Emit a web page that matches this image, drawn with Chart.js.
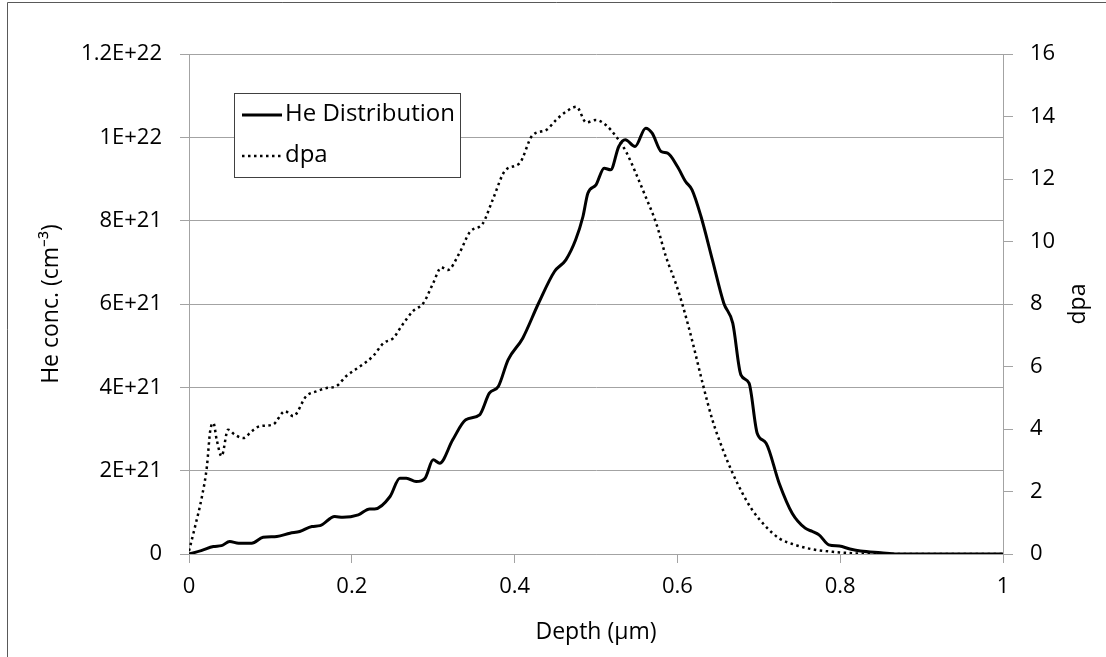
<!DOCTYPE html>
<html>
<head>
<meta charset="utf-8">
<script src="https://cdn.jsdelivr.net/npm/chart.js@4"></script>
<style>
  body { margin: 0; background: #fff; }
  canvas { display: block; }
</style>
</head>
<body>
<canvas id="depthChart" width="1106" height="657"></canvas>
<script>
// He distribution, depth in um, concentration in cm^-3
const heDepth = [0, 0.015, 0.030, 0.040, 0.050, 0.061, 0.077, 0.091, 0.108, 0.124, 0.136, 0.151, 0.161, 0.179, 0.189,
  0.208, 0.222, 0.228, 0.247, 0.259, 0.267, 0.279, 0.290, 0.300, 0.308, 0.324, 0.340, 0.357, 0.369, 0.380, 0.392,
  0.410, 0.429, 0.449, 0.463, 0.475, 0.484, 0.490, 0.500, 0.510, 0.518, 0.528, 0.536, 0.548, 0.561, 0.569, 0.580,
  0.588, 0.600, 0.610, 0.618, 0.629, 0.643, 0.657, 0.668, 0.678, 0.688, 0.698, 0.709, 0.725, 0.741, 0.757, 0.766,
  0.774, 0.786, 0.799, 0.812, 0.825, 0.850, 0.870, 1.0];
const heConc = [0, 0.08e21, 0.18e21, 0.2e21, 0.30e21, 0.26e21, 0.26e21, 0.40e21, 0.42e21, 0.50e21, 0.54e21, 0.66e21, 0.68e21, 0.90e21, 0.88e21,
  0.94e21, 1.08e21, 1.08e21, 1.38e21, 1.82e21, 1.82e21, 1.74e21, 1.82e21, 2.26e21, 2.18e21, 2.74e21, 3.22e21, 3.34e21, 3.86e21, 4.02e21, 4.66e21,
  5.18e21, 6.0e21, 6.78e21, 7.06e21, 7.54e21, 8.10e21, 8.66e21, 8.86e21, 9.26e21, 9.22e21, 9.78e21, 9.94e21, 9.78e21, 10.22e21, 10.10e21, 9.66e21,
  9.62e21, 9.30e21, 8.94e21, 8.74e21, 8.10e21, 7.06e21, 6.02e21, 5.54e21, 4.30e21, 4.10e21, 2.90e21, 2.66e21, 1.70e21, 0.98e21, 0.62e21, 0.54e21,
  0.46e21, 0.22e21, 0.19e21, 0.12e21, 0.07e21, 0.03e21, 0, 0];

// dpa (right axis)
const dpaDepth = [0, 0.007, 0.016, 0.022, 0.026, 0.030, 0.034, 0.040, 0.048, 0.056, 0.067, 0.077, 0.087, 0.103, 0.118,
  0.128, 0.144, 0.157, 0.169, 0.181, 0.193, 0.210, 0.226, 0.239, 0.251, 0.261, 0.275, 0.288, 0.300, 0.310, 0.318,
  0.332, 0.345, 0.361, 0.373, 0.389, 0.406, 0.422, 0.439, 0.451, 0.463, 0.476, 0.488, 0.500, 0.512, 0.525, 0.537,
  0.549, 0.561, 0.574, 0.586, 0.598, 0.607, 0.619, 0.631, 0.643, 0.656, 0.668, 0.680, 0.692, 0.709, 0.725, 0.745,
  0.766, 0.791, 0.820, 0.850, 1.0];
const dpaValues = [0.1, 0.83, 1.85, 2.8, 3.93, 4.19, 3.66, 3.13, 3.98, 3.82, 3.71, 3.93, 4.09, 4.14, 4.57,
  4.41, 5.05, 5.21, 5.31, 5.37, 5.69, 6.0, 6.33, 6.75, 6.91, 7.29, 7.77, 8.03, 8.67, 9.17, 9.09,
  9.62, 10.3, 10.58, 11.33, 12.29, 12.50, 13.4, 13.57, 13.89, 14.15, 14.31, 13.81, 13.89, 13.73, 13.35, 12.87,
  12.18, 11.43, 10.58, 9.51, 8.66, 7.91, 6.74, 5.46, 4.29, 3.33, 2.58, 1.94, 1.41, 0.87, 0.50, 0.29,
  0.15, 0.07, 0.02, 0, 0];

const heTickLabels = ['0', '2E+21', '4E+21', '6E+21', '8E+21', '1E+22', '1.2E+22'];
const depthTickLabels = ['0', '0.2', '0.4', '0.6', '0.8', '1'];
const seriesNames = ['He Distribution', 'dpa'];

const gridGray = '#a3a3a3';
Chart.defaults.font.family = "'Open Sans', sans-serif";
Chart.defaults.font.size = 22;
Chart.defaults.color = '#000';

// white background + the frame lines on the left and top edges
const framePlugin = {
  id: 'frame',
  beforeDraw(chart) {
    const c = chart.ctx;
    c.save();
    c.fillStyle = '#fff';
    c.fillRect(0, 0, chart.width, chart.height);
    c.strokeStyle = '#595959';
    c.lineWidth = 1;
    c.beginPath();
    c.moveTo(7.5, chart.height);
    c.lineTo(7.5, 2.5);
    c.lineTo(chart.width, 2.5);
    c.stroke();
    c.restore();
  }
};

// legend box inside the plot + right axis title reading upwards (excel style)
const boxLegend = {
  id: 'boxLegend',
  afterDraw(chart) {
    const c = chart.ctx;
    c.save();
    c.fillStyle = '#fff';
    c.fillRect(234.5, 93.5, 226, 84);
    c.strokeStyle = '#404040';
    c.lineWidth = 1;
    c.strokeRect(234.5, 93.5, 226, 84);

    c.strokeStyle = '#000';
    c.lineWidth = 3;
    c.beginPath();
    c.moveTo(242, 115);
    c.lineTo(282, 115);
    c.stroke();

    c.lineWidth = 2.5;
    c.setLineDash([2.5, 3.5]);
    c.beginPath();
    c.moveTo(242, 156);
    c.lineTo(282, 156);
    c.stroke();
    c.setLineDash([]);

    c.fillStyle = '#000';
    c.font = "24px 'Open Sans', sans-serif";
    c.textBaseline = 'middle';
    c.fillText(seriesNames[0], 285, 114);
    c.fillText(seriesNames[1], 285, 155);

    const area = chart.chartArea;
    c.font = "23px 'Open Sans', sans-serif";
    c.textAlign = 'center';
    c.translate(1078, (area.top + area.bottom) / 2);
    c.rotate(-Math.PI / 2);
    c.fillText('dpa', 0, 0);
    c.restore();
  }
};

const ctx = document.getElementById('depthChart').getContext('2d');

const chart = new Chart(ctx, {
  type: 'scatter',
  data: {
    datasets: [{
      label: seriesNames[0],
      data: heDepth.map((d, i) => ({ x: d, y: heConc[i] })),
      yAxisID: 'y',
      showLine: true,
      borderColor: '#000',
      borderWidth: 3,
      pointRadius: 0,
      cubicInterpolationMode: 'monotone'
    }, {
      label: seriesNames[1],
      data: dpaDepth.map((d, i) => ({ x: d, y: dpaValues[i] })),
      yAxisID: 'y2',
      showLine: true,
      borderColor: '#000',
      borderWidth: 2.5,
      borderDash: [2.5, 3.5],
      pointRadius: 0,
      cubicInterpolationMode: 'monotone'
    }]
  },
  options: {
    responsive: false,
    devicePixelRatio: 1,
    animation: false,
    layout: { padding: { top: 54, left: 0, right: 0, bottom: 0 } },
    plugins: {
      legend: { display: false },
      tooltip: { enabled: false }
    },
    scales: {
      x: {
        type: 'linear',
        min: 0,
        max: 1,
        ticks: { stepSize: 0.2, padding: 11, callback: (v, i) => depthTickLabels[i] },
        grid: { drawOnChartArea: false, color: gridGray, tickLength: 9 },
        border: { color: gridGray },
        title: { display: true, text: 'Depth (μm)', font: { size: 23 }, padding: { top: 0, bottom: 11 } },
        afterFit: (scale) => { scale.height = 103; }
      },
      y: {
        position: 'left',
        min: 0,
        max: 1.2e22,
        ticks: {
          stepSize: 2e21,
          padding: 18,
          callback: (v, i) => heTickLabels[i]
        },
        grid: { color: gridGray, tickLength: 9 },
        border: { color: gridGray },
        title: { display: true, text: 'He conc. (cm⁻³)', font: { size: 23 }, padding: { top: 38, bottom: 0 } },
        afterFit: (scale) => { scale.width = 189; }
      },
      y2: {
        position: 'right',
        min: 0,
        max: 16,
        ticks: { stepSize: 2, padding: 17 },
        grid: { drawOnChartArea: false, color: gridGray, tickLength: 10 },
        border: { color: gridGray },
        afterFit: (scale) => { scale.width = 103; }
      }
    }
  },
  plugins: [framePlugin, boxLegend]
});
</script>
</body>
</html>
